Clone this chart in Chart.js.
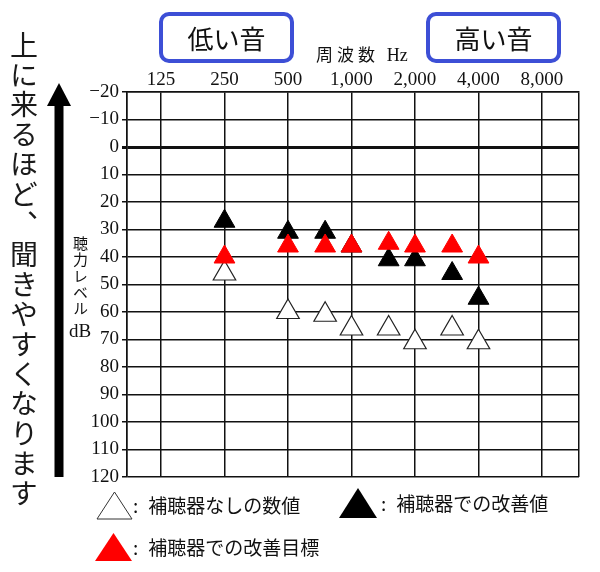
<!DOCTYPE html>
<html lang="ja">
<head>
<meta charset="utf-8">
<title>オージオグラム</title>
<script src="https://cdn.jsdelivr.net/npm/chart.js@4.4.1/dist/chart.umd.min.js"></script>
<style>
    body { margin: 0; background: #fff; }
    #wrap { position: relative; width: 600px; height: 572px; overflow: hidden; font-family: "Noto Sans CJK JP", sans-serif; color: #111; }
    #chart { position: absolute; left: 0; top: 0; }
    #deco { position: absolute; left: 0; top: 0; }
    .box { position: absolute; top: 12px; width: 135px; height: 51px; box-sizing: border-box; border: 4px solid #3d4fd6; border-radius: 10px; font-size: 26px; line-height: 43px; text-align: center; }
    .vert { position: absolute; writing-mode: vertical-rl; white-space: nowrap; }
    #bigText { left: 9px; top: 31px; font-size: 28px; line-height: 30px; letter-spacing: 1.9px; color: #1a1a1a; }
    #levelText { left: 71px; top: 236px; font-size: 15px; line-height: 18px; letter-spacing: 1.2px; }
    #dbText { position: absolute; left: 69px; top: 321px; font-family: "Liberation Serif", serif; font-size: 19px; line-height: 19px; }
    #freqText { position: absolute; left: 316px; top: 45px; font-size: 17px; line-height: 18px; letter-spacing: 4px; }
    #freqText span { font-family: "Liberation Serif", serif; letter-spacing: 0; font-size: 18px; }
    .lg { position: absolute; font-size: 19px; line-height: 19px; white-space: nowrap; }
    .lg span { margin-left: 10px; }
</style>
</head>
<body>
<div id="wrap">
    <canvas id="chart" width="600" height="572"></canvas>
    <svg id="deco" width="600" height="572">
        <!-- arrow on the left -->
        <rect x="54.5" y="100" width="9" height="377" fill="#000"></rect>
        <polygon points="59,83 47,106 71,106" fill="#000"></polygon>
        <!-- legend markers -->
        <polygon points="114.5,492 97,519 132,519" fill="#fff" stroke="#333" stroke-width="1"></polygon>
        <polygon points="358,488 339,518 377,518" fill="#000"></polygon>
        <polygon points="113.5,533 95,561 132,561" fill="#ff0000"></polygon>
    </svg>
    <div class="box" style="left:159px;">低い音</div>
    <div class="box" style="left:426px;">高い音</div>
    <div id="freqText">周波数 <span>Hz</span></div>
    <div id="bigText" class="vert">上に来るほど、聞きやすくなります</div>
    <div id="levelText" class="vert">聴力レベル</div>
    <div id="dbText">dB</div>
    <div class="lg" style="left:133px; top:495px;">:<span>補聴器なしの数値</span></div>
    <div class="lg" style="left:381px; top:493px;">:<span>補聴器での改善値</span></div>
    <div class="lg" style="left:133px; top:537px;">:<span>補聴器での改善目標</span></div>
</div>

<script>
// Data
const freqs = [250, 500, 750, 1000, 1500, 2000, 3000, 4000];
const withoutAid = [46, 60, 61, 66, 66, 71, 66, 71];   // white triangles
const withAid = [27, 31, 31, 36, 41, 41, 46, 55];      // black triangles
const targetLevels = [40, 36, 36, 36, 35, 36, 36, 40]; // red triangles

const freqTicks = [125, 250, 500, 1000, 2000, 4000, 8000];
const levelTicks = [-20, -10, 0, 10, 20, 30, 40, 50, 60, 70, 80, 90, 100, 110, 120];

// plot edges sit about half an octave outside 125 and 8000
const freqMin = 86.25;
const freqMax = 11981;

function toPoints(values) {
    return freqs.map((f, i) => ({ x: f, y: values[i] }));
}

const serif = { family: 'Liberation Serif', size: 19 };

new Chart(document.getElementById('chart'), {
    type: 'scatter',
    data: {
        datasets: [
            {
                label: '補聴器での改善目標',
                data: toPoints(targetLevels),
                pointStyle: 'triangle',
                pointRadius: 12,
                backgroundColor: '#ff0000',
                borderColor: '#ff0000',
                borderWidth: 1,
                order: 0
            },
            {
                label: '補聴器での改善値',
                data: toPoints(withAid),
                pointStyle: 'triangle',
                pointRadius: 12,
                backgroundColor: '#000',
                borderColor: '#000',
                borderWidth: 1,
                order: 1
            },
            {
                label: '補聴器なしの数値',
                data: toPoints(withoutAid),
                pointStyle: 'triangle',
                pointRadius: 13,
                backgroundColor: '#fff',
                borderColor: '#222',
                borderWidth: 1.2,
                order: 2
            }
        ]
    },
    options: {
        responsive: false,
        animation: false,
        devicePixelRatio: 1,
        layout: { padding: { left: 0, right: 21, top: 0, bottom: 95 } },
        plugins: {
            legend: { display: false },
            tooltip: { enabled: false }
        },
        scales: {
            x: {
                type: 'logarithmic',
                position: 'top',
                bounds: 'data',
                min: freqMin,
                max: freqMax,
                afterBuildTicks: scale => {
                    scale.ticks = [freqMin, ...freqTicks, freqMax].map(v => ({ value: v }));
                },
                afterFit: scale => { scale.height = 92; },
                ticks: {
                    autoSkip: false,
                    maxRotation: 0,
                    padding: 1,
                    color: '#111',
                    font: serif,
                    callback: value => freqTicks.includes(value) ? value.toLocaleString('en-US') : ''
                },
                grid: { color: '#111', lineWidth: 1.5, drawTicks: false },
                border: { color: '#111', width: 1.5 }
            },
            y: {
                reverse: true,
                min: -20,
                max: 120,
                afterBuildTicks: scale => {
                    scale.ticks = levelTicks.map(v => ({ value: v }));
                },
                afterFit: scale => { scale.width = 127; },
                ticks: {
                    autoSkip: false,
                    padding: 3,
                    color: '#111',
                    font: serif,
                    callback: value => value < 0 ? '\u2212' + Math.abs(value) : value
                },
                grid: {
                    color: '#111',
                    tickLength: 5,
                    lineWidth: ctx => ctx.tick && ctx.tick.value === 0 ? 3 : 1.5
                },
                border: { color: '#111', width: 1.5 }
            }
        }
    }
});
</script>
</body>
</html>
